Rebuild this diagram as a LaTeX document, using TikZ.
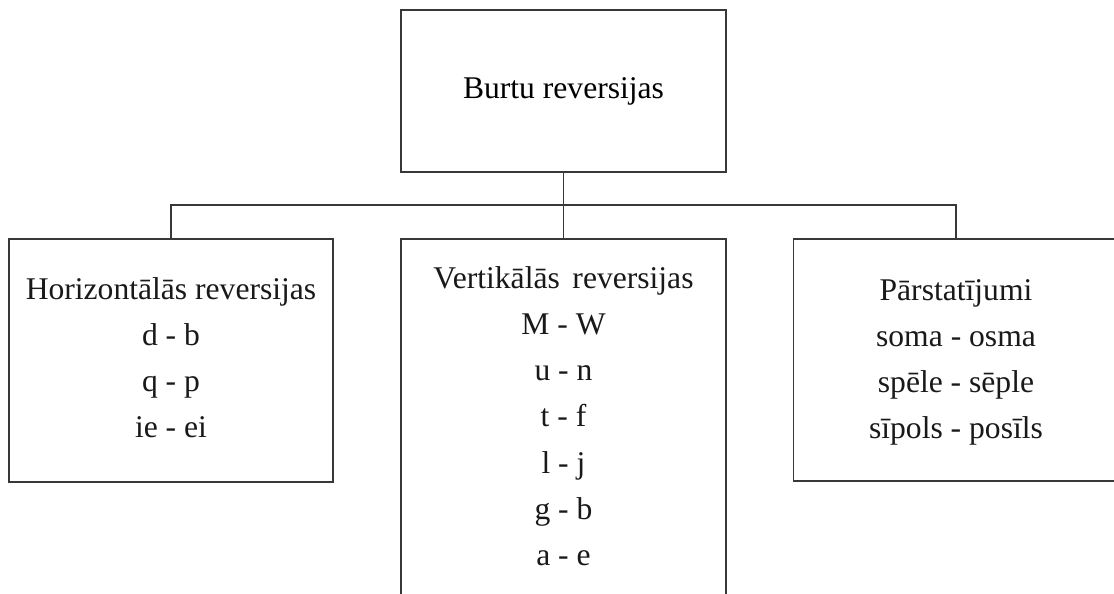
\documentclass[tikz,border=0pt]{standalone}
\usepackage{fontspec}
\setmainfont{Liberation Serif}
\begin{document}
\begin{tikzpicture}[x=1pt, y=-1pt,
    line/.style={draw=black!78, line width=1.4pt},
    box/.style={line, rectangle, inner sep=0pt, outer sep=0pt, fill=white},
    lbl/.style={anchor=base, inner sep=0pt, text=black!90,
      font=\fontsize{31.6}{46.3}\selectfont}]
  \useasboundingbox (0,0) rectangle (1114,594);
  \clip (0,0) rectangle (1114,594);

  % root box
  \node[box, minimum width=325pt, minimum height=162pt,
        font=\fontsize{31.6}{38}\selectfont] (top) at (563.5,91) {Burtu reversijas};

  % three category boxes
  \node[box, minimum width=324pt, minimum height=243pt] (left)  at (171,360.5) {};
  \node[box, minimum width=325pt, minimum height=400pt] (mid)   at (563.5,439) {};
  \node[box, minimum width=325pt, minimum height=242pt] (right) at (956,360) {};

  % connectors
  \coordinate (bar) at (563.5,205);
  \draw[line] (top.south) -- (mid.north);
  \draw[line] (left.north) |- (bar) -| (right.north);

  % box contents
  \node[lbl] (ltxt) at (171,299) {\begin{tabular}[t]{@{}c@{}}
    Horizontālās reversijas\\ d - b\\ q - p\\ ie - ei\end{tabular}};
  \node[lbl] (mtxt) at (563.5,288) {\begin{tabular}[t]{@{}c@{}}
    Vertikālās\hspace{0.15em} reversijas\\ M - W\\ u - n\\ t - f\\ l - j\\ g - b\\ a - e\end{tabular}};
  \node[lbl] (rtxt) at (956,300) {\begin{tabular}[t]{@{}c@{}}
    Pārstatījumi\\ soma - osma\\ spēle - sēple\\ sīpols - posīls\end{tabular}};
\end{tikzpicture}
\end{document}
